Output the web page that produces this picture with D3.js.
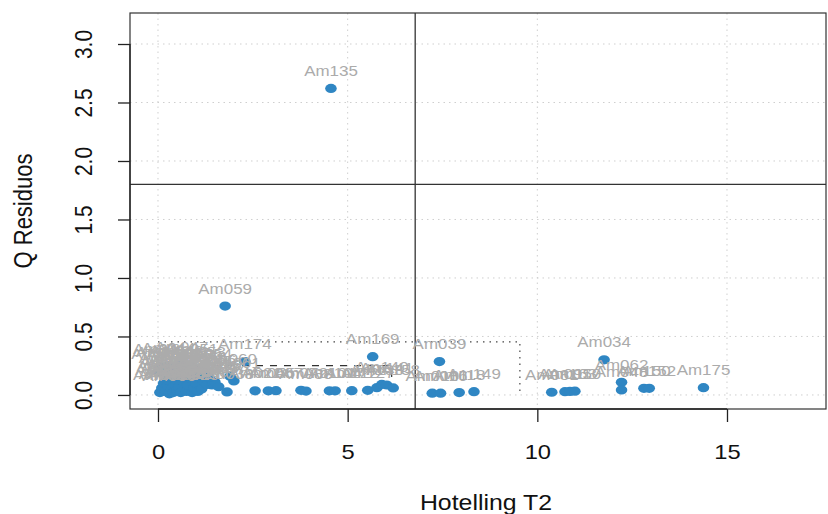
<!DOCTYPE html>
<html><head><meta charset="utf-8">
<script src="https://cdn.jsdelivr.net/npm/d3@7"></script>
<style>body{margin:0;background:#fff}svg{display:block}</style>
</head><body>
<script>
// ---- data ----
const sampleNames = [
 "Am135","Am059","Am174","Am169","Am039","Am034","Am062","Am150","Am152","Am175",
 "Am048","Am081","Am095","Am163","Am110","Am010","Am016","Am118","Am149",
 "Am021","Am055","Am067","Am072","Am088","Am101","Am104","Am122","Am127","Am133","Am140","Am141","Am158",
 "Am001","Am002","Am003","Am004","Am005","Am006","Am007","Am008","Am009","Am011",
 "Am012","Am013","Am014","Am015","Am017","Am018","Am019","Am020","Am022","Am023",
 "Am024","Am025","Am026","Am027","Am028","Am029","Am030","Am031","Am032","Am033",
 "Am035","Am036","Am037","Am038","Am040","Am041","Am042","Am043","Am044","Am045",
 "Am046","Am047","Am049","Am050","Am051","Am052","Am053","Am054","Am056","Am057",
 "Am058","Am060","Am061"
];
const t2Values = [
 4.56,1.77,2.29,5.66,7.42,11.76,12.22,12.81,12.95,14.38,
 12.22,10.38,10.73,10.86,10.99,7.23,7.45,7.94,8.33,
 2.56,2.91,3.11,3.77,3.90,4.52,4.67,5.11,5.53,5.77,5.90,6.03,6.20,
 0.05,0.10,0.15,0.20,0.25,0.30,0.32,0.35,0.40,0.42,
 0.45,0.50,0.55,0.58,0.60,0.65,0.70,0.72,0.75,0.80,
 0.85,0.90,0.95,1.00,1.05,1.10,1.15,1.20,1.30,1.42,
 1.45,1.50,1.60,1.82,0.00,0.05,0.12,0.20,0.28,0.38,
 0.48,0.62,0.68,0.78,0.88,0.98,1.08,1.25,1.35,0.22,
 0.52,1.90,2.00
];
const qValues = [
 2.62,0.76,0.285,0.327,0.285,0.30,0.108,0.057,0.057,0.062,
 0.043,0.023,0.028,0.030,0.032,0.015,0.015,0.020,0.028,
 0.035,0.035,0.037,0.040,0.033,0.035,0.035,0.037,0.040,0.062,0.090,0.085,0.060,
 0.02,0.06,0.10,0.03,0.08,0.01,0.12,0.05,0.02,0.09,
 0.15,0.04,0.07,0.18,0.02,0.11,0.05,0.21,0.03,0.08,
 0.14,0.02,0.06,0.10,0.03,0.17,0.05,0.12,0.09,0.085,
 0.10,0.11,0.07,0.026,0.20,0.24,0.22,0.17,0.25,0.19,
 0.23,0.26,0.16,0.20,0.24,0.19,0.22,0.20,0.15,0.13,
 0.13,0.16,0.12
];
const xTickValues = [0,5,10,15];
const yTickValues = [0,0.5,1,1.5,2,2.5,3];
const yTickLabels = ["0.0","0.5","1.0","1.5","2.0","2.5","3.0"];
const t2Limit = 6.78, qLimit = 1.80;
const outerLimit = {t2: 9.54, q: 0.453};
const innerLimit = {t2: 6.16, q: 0.25};
const xTitle = "Hotelling T2", yTitle = "Q Residuos";

// ---- layout ----
const W = 828, H = 514;
const L = 130, T = 13, R = 826, B = 409;
const SX = 1.13; // horizontal glyph stretch of the reference
const font = "'Liberation Sans', Arial, Helvetica, sans-serif";

const svg = d3.select("body").append("svg").attr("width", W).attr("height", H)
  .style("font-family", font);

const x = d3.scaleLinear().domain([-0.738, 17.61]).range([L, R]);
const y = d3.scaleLinear().domain([-0.12, 3.265]).range([B, T]);

// grid
const g = svg.append("g");
g.selectAll("line.gx").data(xTickValues).join("line")
  .attr("x1", d => x(d)).attr("x2", d => x(d)).attr("y1", T).attr("y2", B)
  .attr("stroke", "#cfcfcf").attr("stroke-dasharray", "1.5,4");
g.selectAll("line.gy").data(yTickValues).join("line")
  .attr("y1", d => y(d)).attr("y2", d => y(d)).attr("x1", L).attr("x2", R)
  .attr("stroke", "#cfcfcf").attr("stroke-dasharray", "1.5,4");

// limit boxes
svg.append("path")
  .attr("d", `M${x(0)},${y(outerLimit.q)}H${x(outerLimit.t2)}V${y(0)}`)
  .attr("fill", "none").attr("stroke", "#444").attr("stroke-width", 1.2)
  .attr("stroke-dasharray", "1.5,5");
svg.append("path")
  .attr("d", `M${x(0)},${y(innerLimit.q)}H${x(innerLimit.t2)}V${y(0)}`)
  .attr("fill", "none").attr("stroke", "#333").attr("stroke-width", 1.2)
  .attr("stroke-dasharray", "7,7");

// reference lines
svg.append("line").attr("x1", x(t2Limit)).attr("x2", x(t2Limit)).attr("y1", T).attr("y2", B)
  .attr("stroke", "#333").attr("stroke-width", 1.3);
svg.append("line").attr("x1", L).attr("x2", R).attr("y1", y(qLimit)).attr("y2", y(qLimit))
  .attr("stroke", "#333").attr("stroke-width", 1.3);

// points
const pts = sampleNames.map((n, i) => ({n, t: t2Values[i], q: qValues[i]}));
svg.append("g").selectAll("ellipse").data(pts).join("ellipse")
  .attr("cx", d => x(d.t)).attr("cy", d => y(d.q))
  .attr("rx", 5.8).attr("ry", 4.6).attr("fill", "#2f86c3");

// labels
svg.append("g").selectAll("text").data(pts).join("text")
  .attr("transform", d => `translate(${x(d.t)},${y(d.q) - 12.5}) scale(${SX},1)`)
  .attr("text-anchor", "middle").attr("font-size", 15).attr("fill", "#ababab")
  .text(d => d.n);

// box
svg.append("rect").attr("x", L).attr("y", T).attr("width", R - L).attr("height", B - T)
  .attr("fill", "none").attr("stroke", "#333").attr("stroke-width", 1.2);

// x axis
const xa = svg.append("g").attr("transform", `translate(0,${B})`)
  .call(d3.axisBottom(x).tickValues(xTickValues).tickSize(13).tickPadding(22).tickFormat(d3.format("d")));
xa.select(".domain").remove();
xa.append("line").attr("x1", x(0)).attr("x2", x(15)).attr("stroke", "#222").attr("stroke-width", 1.3);
xa.selectAll(".tick line").attr("stroke", "#222").attr("stroke-width", 1.3);
xa.selectAll(".tick text").attr("font-size", 21).attr("fill", "#111").attr("font-family", font)
  .attr("transform", `scale(${SX},1)`);

// y axis
const ya = svg.append("g").attr("transform", `translate(${L},0)`)
  .call(d3.axisLeft(y).tickValues(yTickValues).tickSize(12).tickFormat((d, i) => yTickLabels[i]));
ya.select(".domain").remove();
ya.append("line").attr("y1", y(0)).attr("y2", y(3)).attr("stroke", "#222").attr("stroke-width", 1.3);
ya.selectAll(".tick line").attr("stroke", "#222").attr("stroke-width", 1.3);
ya.selectAll(".tick text").attr("font-size", 21).attr("fill", "#111").attr("font-family", font)
  .attr("x", null).attr("dy", null).attr("text-anchor", "middle")
  .attr("transform", `translate(-38,0) scale(${SX},1) rotate(-90)`);

// titles
svg.append("text").attr("transform", `translate(486,510) scale(${SX},1)`)
  .attr("text-anchor", "middle").attr("font-size", 22).attr("fill", "#111").text(xTitle);
svg.append("text").attr("transform", `translate(32,${(T + B) / 2}) scale(${SX},1) rotate(-90)`)
  .attr("text-anchor", "middle").attr("font-size", 22).attr("fill", "#111").text(yTitle);
</script>
</body></html>
